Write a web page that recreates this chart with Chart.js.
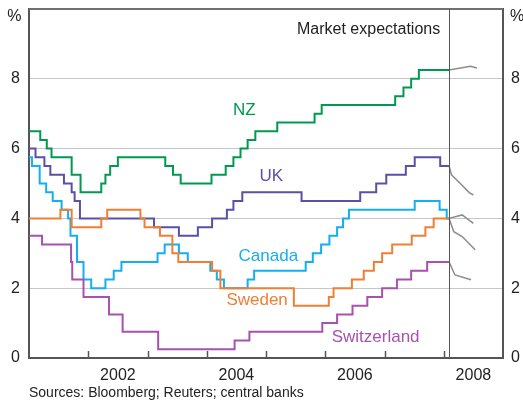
<!DOCTYPE html>
<html>
<head>
<meta charset="utf-8">
<script src="https://cdn.jsdelivr.net/npm/chart.js@4.4.0/dist/chart.umd.min.js"></script>
<style>
  html, body { margin: 0; padding: 0; background: #fff; }
  canvas { display: block; }
</style>
</head>
<body>
<canvas id="chart" width="523" height="403"></canvas>
<script>
// Policy rates, as steps: decimal year the rate took effect, and the new rate (%)
const nzDates = [2001.0, 2001.19, 2001.30, 2001.38, 2001.72, 2001.87, 2002.22, 2002.29, 2002.37, 2002.50, 2003.30, 2003.43, 2003.56, 2004.08, 2004.32, 2004.45, 2004.57, 2004.69, 2004.82, 2005.19, 2005.82, 2005.94, 2007.18, 2007.32, 2007.45, 2007.58, 2008.09];
const nzRates = [6.5, 6.25, 6.0, 5.75, 5.25, 4.75, 5.0, 5.25, 5.5, 5.75, 5.5, 5.25, 5.0, 5.25, 5.5, 5.75, 6.0, 6.25, 6.5, 6.75, 7.0, 7.25, 7.5, 7.75, 8.0, 8.25, 8.25];

const ukDates = [2001.0, 2001.11, 2001.26, 2001.36, 2001.59, 2001.72, 2001.77, 2001.86, 2003.11, 2003.53, 2003.85, 2004.09, 2004.34, 2004.45, 2004.60, 2005.60, 2006.59, 2006.86, 2007.03, 2007.36, 2007.51, 2007.94, 2008.09];
const ukRates = [6.0, 5.75, 5.5, 5.25, 5.0, 4.75, 4.5, 4.0, 3.75, 3.5, 3.75, 4.0, 4.25, 4.5, 4.75, 4.5, 4.75, 5.0, 5.25, 5.5, 5.75, 5.5, 5.5];

const canadaDates = [2001.0, 2001.05, 2001.18, 2001.29, 2001.40, 2001.55, 2001.66, 2001.70, 2001.81, 2001.92, 2002.05, 2002.29, 2002.43, 2002.56, 2003.17, 2003.29, 2003.53, 2003.68, 2004.06, 2004.17, 2004.29, 2004.69, 2004.80, 2005.67, 2005.79, 2005.93, 2006.07, 2006.20, 2006.30, 2006.40, 2007.51, 2007.93, 2008.05, 2008.09];
const canadaRates = [5.75, 5.5, 5.0, 4.75, 4.5, 4.25, 4.0, 3.5, 2.75, 2.25, 2.0, 2.25, 2.5, 2.75, 3.0, 3.25, 3.0, 2.75, 2.5, 2.25, 2.0, 2.25, 2.5, 2.75, 3.0, 3.25, 3.5, 3.75, 4.0, 4.25, 4.5, 4.25, 4.0, 4.0];

const swedenDates = [2001.0, 2001.53, 2001.72, 2002.22, 2002.32, 2002.88, 2002.95, 2003.21, 2003.42, 2003.52, 2004.09, 2004.23, 2005.47, 2006.06, 2006.14, 2006.45, 2006.65, 2006.82, 2006.96, 2007.13, 2007.46, 2007.69, 2007.83, 2008.09];
const swedenRates = [4.0, 4.25, 3.75, 4.0, 4.25, 4.0, 3.75, 3.5, 3.0, 2.75, 2.5, 2.0, 1.5, 1.75, 2.0, 2.25, 2.5, 2.75, 3.0, 3.25, 3.5, 3.75, 4.0, 4.0];

const swissDates = [2001.0, 2001.22, 2001.71, 2001.73, 2001.92, 2002.35, 2002.58, 2003.18, 2004.47, 2004.72, 2005.95, 2006.20, 2006.46, 2006.71, 2006.96, 2007.21, 2007.45, 2007.72, 2008.09];
const swissRates = [3.5, 3.25, 2.75, 2.25, 1.75, 1.25, 0.75, 0.25, 0.5, 0.75, 1.0, 1.25, 1.5, 1.75, 2.0, 2.25, 2.5, 2.75, 2.75];

// Market expectations after the last observation
const nzExpDates = [2008.09, 2008.45, 2008.56];
const nzExpRates = [8.25, 8.36, 8.31];
const ukExpDates = [2008.09, 2008.13, 2008.28, 2008.43, 2008.50];
const ukExpRates = [5.5, 5.25, 5.0, 4.74, 4.67];
const canadaExpDates = [2008.09, 2008.17, 2008.31, 2008.53];
const canadaExpRates = [4.0, 3.62, 3.48, 3.1];
const swedenExpDates = [2008.09, 2008.31, 2008.50];
const swedenExpRates = [4.0, 4.1, 3.86];
const swissExpDates = [2008.09, 2008.19, 2008.46];
const swissExpRates = [2.75, 2.38, 2.24];

const expectationsStart = 2008.09;
const yearLabels = ["2002", "2004", "2006", "2008"];
const yearTicks = [2002, 2003, 2004, 2005, 2006, 2007, 2008];

const colors = {
  nz: "#00994f",
  uk: "#5b50a8",
  canada: "#14aff0",
  sweden: "#f07f34",
  swiss: "#a652ae",
  exp: "#8c8c8c",
};

function toPoints(dates, rates) {
  return dates.map((d, i) => ({ x: d, y: rates[i] }));
}

function stepSeries(label, dates, rates, color) {
  return {
    label: label,
    data: toPoints(dates, rates),
    borderColor: color,
    borderWidth: 2,
    stepped: true,
    pointRadius: 0,
    fill: false,
  };
}

function expSeries(label, dates, rates) {
  return {
    label: label,
    data: toPoints(dates, rates),
    borderColor: colors.exp,
    borderWidth: 1.5,
    pointRadius: 0,
    tension: 0,
    fill: false,
  };
}

const font = "'Liberation Sans', Arial, Helvetica, sans-serif";

// frame, year ticks, series names and notes
const annotations = {
  id: "annotations",
  afterDatasetsDraw(chart) {
    const { ctx, chartArea: area, scales } = chart;
    const x = scales.x, y = scales.y;
    ctx.save();

    // top border
    ctx.strokeStyle = "#707070";
    ctx.lineWidth = 2;
    ctx.beginPath();
    ctx.moveTo(area.left, area.top);
    ctx.lineTo(area.right, area.top);
    ctx.stroke();

    // year tick marks, pointing up from the x axis
    ctx.strokeStyle = "#555";
    ctx.lineWidth = 1.5;
    yearTicks.forEach(t => {
      const px = Math.round(x.getPixelForValue(t)) + 0.5;
      ctx.beginPath();
      ctx.moveTo(px, area.bottom);
      ctx.lineTo(px, area.bottom - 7);
      ctx.stroke();
    });

    // start of market expectations
    const ex = Math.round(x.getPixelForValue(expectationsStart)) + 0.5;
    ctx.strokeStyle = "#555";
    ctx.lineWidth = 1;
    ctx.beginPath();
    ctx.moveTo(ex, area.top);
    ctx.lineTo(ex, area.bottom);
    ctx.stroke();

    ctx.textBaseline = "middle";
    ctx.fillStyle = "#222";
    ctx.font = "16px " + font;
    ctx.textAlign = "right";
    ctx.fillText("Market expectations", x.getPixelForValue(2007.94), y.getPixelForValue(9.41));

    // unit labels
    ctx.font = "16px " + font;
    ctx.textAlign = "right";
    ctx.fillText("%", 21.5, 17);
    ctx.textAlign = "left";
    ctx.fillText("%", area.right + 7, 17);

    // series names
    ctx.font = "17px " + font;
    ctx.textAlign = "center";
    const names = [
      ["NZ", colors.nz, 2004.635, 7.09],
      ["UK", colors.uk, 2005.09, 5.21],
      ["Canada", colors.canada, 2005.04, 2.91],
      ["Sweden", colors.sweden, 2004.85, 1.66],
      ["Switzerland", colors.swiss, 2006.85, 0.59],
    ];
    names.forEach(([text, color, vx, vy]) => {
      ctx.fillStyle = color;
      ctx.fillText(text, x.getPixelForValue(vx), y.getPixelForValue(vy));
    });

    // source note
    ctx.fillStyle = "#222";
    ctx.font = "14px " + font;
    ctx.textAlign = "left";
    ctx.fillText("Sources: Bloomberg; Reuters; central banks", 29, 393);

    ctx.restore();
  }
};

const yTickLabel = v => (v === 10 ? "" : v);

new Chart(document.getElementById("chart"), {
  type: "line",
  data: {
    datasets: [
      expSeries("NZ expectations", nzExpDates, nzExpRates),
      expSeries("UK expectations", ukExpDates, ukExpRates),
      expSeries("Canada expectations", canadaExpDates, canadaExpRates),
      expSeries("Sweden expectations", swedenExpDates, swedenExpRates),
      expSeries("Switzerland expectations", swissExpDates, swissExpRates),
      stepSeries("Switzerland", swissDates, swissRates, colors.swiss),
      stepSeries("Sweden", swedenDates, swedenRates, colors.sweden),
      stepSeries("Canada", canadaDates, canadaRates, colors.canada),
      stepSeries("UK", ukDates, ukRates, colors.uk),
      stepSeries("NZ", nzDates, nzRates, colors.nz),
    ]
  },
  options: {
    responsive: false,
    devicePixelRatio: 1,
    animation: false,
    layout: { padding: { top: 9, left: 0, right: 0, bottom: 0 } },
    plugins: {
      legend: { display: false },
      tooltip: { enabled: false },
    },
    scales: {
      x: {
        type: "linear",
        min: 2001,
        max: 2009,
        grid: { display: false },
        border: { display: true, color: "#555", width: 2 },
        afterBuildTicks: scale => {
          scale.ticks = yearLabels.map(l => ({ value: Number(l) + 0.5 }));
        },
        ticks: {
          autoSkip: false,
          maxRotation: 0,
          padding: 0,
          color: "#222",
          font: { family: font, size: 16 },
          callback: (value, index) => yearLabels[index],
        },
        afterFit: scale => {
          scale.height = 45;
          scale.paddingLeft = 0;
          scale.paddingRight = 0;
        },
      },
      y: {
        position: "left",
        min: 0,
        max: 10,
        grid: { color: "#c3c7cb", lineWidth: 1, drawTicks: false },
        border: { display: true, color: "#555", width: 2 },
        ticks: {
          stepSize: 2,
          padding: 9,
          color: "#222",
          font: { family: font, size: 16 },
          callback: yTickLabel,
        },
        afterFit: scale => {
          scale.width = 29;
          scale.paddingTop = 0;
          scale.paddingBottom = 0;
        },
      },
      y2: {
        position: "right",
        min: 0,
        max: 10,
        grid: { display: false, drawTicks: false },
        border: { display: true, color: "#555", width: 2 },
        ticks: {
          stepSize: 2,
          padding: 8,
          color: "#222",
          font: { family: font, size: 16 },
          callback: yTickLabel,
        },
        afterFit: scale => {
          scale.width = 20;
          scale.paddingTop = 0;
          scale.paddingBottom = 0;
        },
      },
    },
  },
  plugins: [annotations],
});
</script>
</body>
</html>
